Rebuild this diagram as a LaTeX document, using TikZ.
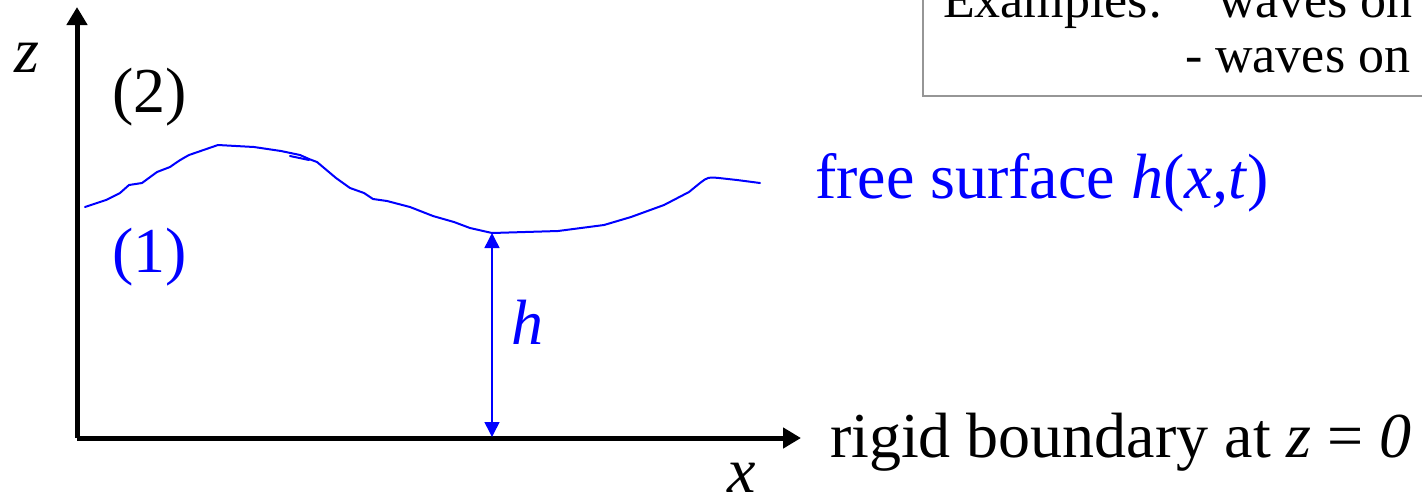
\documentclass[tikz,border=0pt]{standalone}
\usepackage{fontspec}
\setmainfont{Liberation Serif}
\usetikzlibrary{arrows.meta}
\definecolor{wblue}{RGB}{0,0,255}
\definecolor{boxgray}{RGB}{150,150,150}
\tikzset{
  lbl/.style={inner sep=0pt, outer sep=0pt, font=\fontsize{32}{38}\selectfont},
  boxtxt/.style={inner sep=0pt, outer sep=0pt, font=\fontsize{26}{31}\selectfont},
  axis/.style={line width=2.5pt, -{Triangle[length=9pt,width=10pt]}},
  surf/.style={wblue, line width=1pt, line join=round, line cap=round},
  dim/.style={wblue, line width=0.75pt, {Triangle[length=7.5pt,width=7.5pt]}-{Triangle[length=7.5pt,width=7.5pt]}},
}
\begin{document}
\begin{tikzpicture}[x=0.5pt,y=-0.5pt]
\useasboundingbox (0,0) rectangle (1422,494);
\clip (0,0) rectangle (1422,494);
% axes
\coordinate (O) at (77,438);
\coordinate (ztip) at (77,7);
\coordinate (xtip) at (801,438);
\draw[axis] (O) -- (ztip);
\draw[axis] (O) -- (xtip);
% free surface
\draw[surf] (85,207) -- (106,200) -- (120,193) -- (129,185) -- (142,183) -- (157,172) -- (170,167)
  .. controls (180,160) .. (189,155) -- (218,145) -- (254,147) -- (281,151) -- (300,155) -- (309,159)
  -- (317,162) -- (336,178) -- (350,188) -- (364,193) -- (373,199) -- (387,201) -- (410,207)
  -- (433,216) -- (454,222) -- (470,228) -- (492,233) coordinate (hs) -- (558,231) -- (604,225)
  -- (631,217) -- (664,205) -- (689,192) -- (700,183) .. controls (708,177) .. (719,178) -- (737,180) -- (760,183);
\draw[surf] (290,156) -- (309,160);
% height arrow
\coordinate (hb) at (492,437);
\draw[dim] (hs) -- (hb);
% labels
\node[lbl, anchor=base west] (zl) at (14,72) {\textit{z}};
\node[lbl, anchor=base west] (xl) at (727,492) {\textit{x}};
\node[lbl, anchor=base west] (two) at (112,112) {(2)};
\node[lbl, anchor=base west, text=wblue] (one) at (112,272) {(1)};
\node[lbl, anchor=base west, text=wblue] (hl) at (511,344) {\textit{h}};
\node[lbl, anchor=base west, text=wblue] (fs) at (815,198) {free surface \textit{h}(\textit{x,t})};
\node[lbl, anchor=base west] (rb) at (830,457) {rigid boundary at \textit{z} = \textit{0}};
% examples box
\draw[boxgray, line width=1pt] (1440,-20) -- (923,-20) -- (923,96) -- (1440,96);
\node[boxtxt, anchor=base west] (ex) at (943,17) {Examples:};
\node[boxtxt, anchor=base west] (e1) at (1218,17) {waves on};
\node[boxtxt, anchor=base west] (e2) at (1185,72) {- waves on};
\end{tikzpicture}
\end{document}
